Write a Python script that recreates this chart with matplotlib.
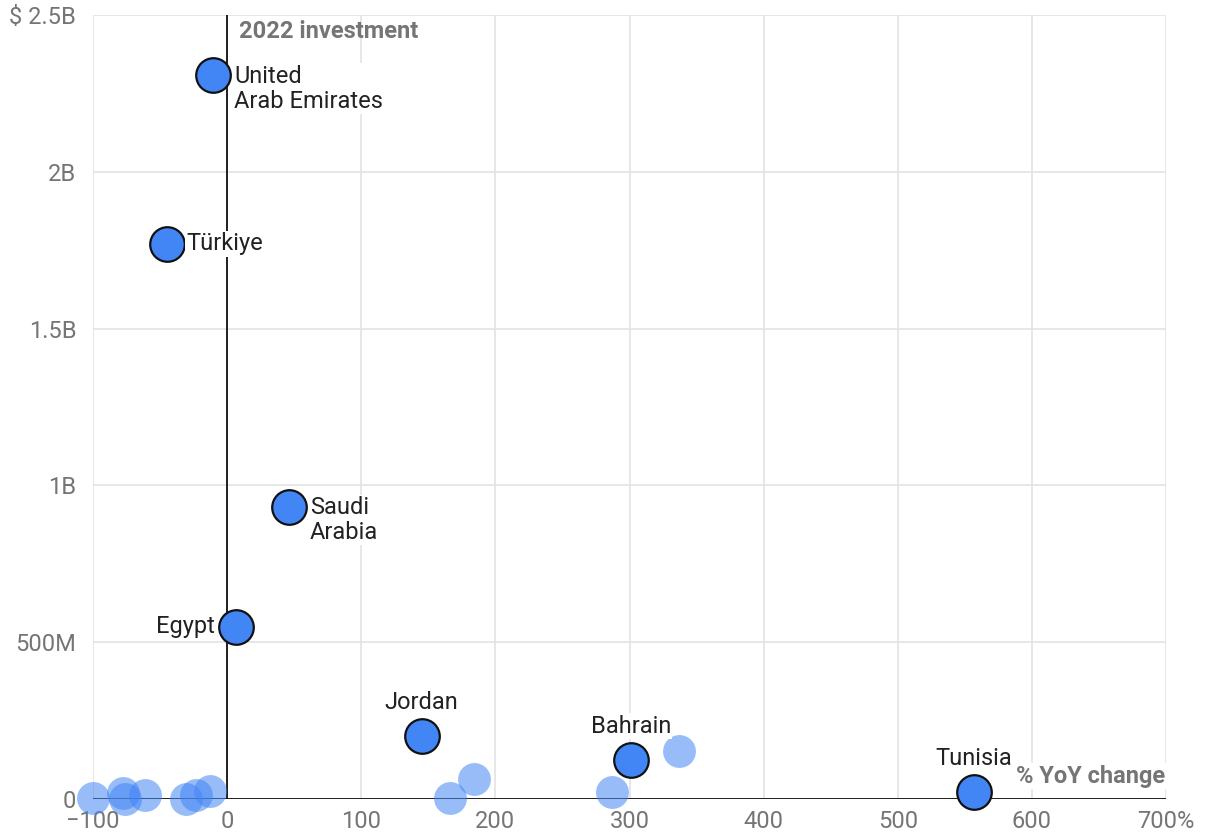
import matplotlib.pyplot as plt

plt.rcParams['font.family'] = ['Roboto', 'DejaVu Sans']

# labelled countries: % YoY change, 2022 investment (billions USD)
countries = ["United\nArab Emirates", "Türkiye", "Saudi\nArabia", "Egypt", "Jordan", "Bahrain", "Tunisia"]
change = [-10.5, -45, 46, 6.5, 145, 301, 557]
invest = [2.31, 1.77, 0.93, 0.55, 0.20, 0.124, 0.022]

# other countries, unlabelled
other_change = [-100, -78, -76, -61, -31, -23, -13, 166, 184, 287, 337]
other_invest = [0.003, 0.02, 0.0, 0.013, 0.0, 0.013, 0.025, 0.003, 0.064, 0.022, 0.153]

x_ticks = [-100, 0, 100, 200, 300, 400, 500, 600, 700]
x_labels = ["\u2212100", "0", "100", "200", "300", "400", "500", "600", "700%"]
y_ticks = [0, 0.5, 1.0, 1.5, 2.0, 2.5]
y_labels = ["0", "500M", "1B", "1.5B", "2B", "$ 2.5B"]

# label placement: (dx, dy) in points, ha, va
label_pos = [(15, 7, "left", "top"), (14, 0, "left", "center"), (15, 8, "left", "top"),
             (-15, 0, "right", "center"), (0, 16, "center", "bottom"), (0, 16, "center", "bottom"),
             (0, 16, "center", "bottom")]

fig = plt.figure(figsize=(12.11, 8.38), dpi=100)
ax = fig.add_axes([93 / 1211, 39 / 838, (1166 - 93) / 1211, (799 - 15) / 838])

ax.scatter(other_change, other_invest, s=560, color="#4285f4", alpha=0.55, linewidths=0, zorder=3,
           clip_on=False)
ax.scatter(change, invest, s=620, color="#4285f4", edgecolors="#111111", linewidths=1.6, zorder=4,
           clip_on=False)

box = dict(facecolor="white", edgecolor="none", pad=1.0)
for name, x, y, (dx, dy, ha, va) in zip(countries, change, invest, label_pos):
    ax.annotate(name, (x, y), xytext=(dx, dy), textcoords="offset points", ha=ha, va=va,
                fontsize=17, color="#222222", linespacing=1.1, zorder=5, bbox=box)

ax.axvline(0, color="#111111", lw=1.3, zorder=2)
ax.axhline(0, color="#111111", lw=1.3, zorder=2)

ax.set_xlim(-100, 700)
ax.set_ylim(0, 2.5)
ax.set_xticks(x_ticks)
ax.set_xticklabels(x_labels)
ax.set_yticks(y_ticks)
ax.set_yticklabels(y_labels)
ax.grid(True, color="#e3e3e3", lw=1.2, zorder=0)
ax.set_axisbelow(True)
for s in ax.spines.values():
    s.set_visible(False)
ax.tick_params(length=0, labelsize=17, labelcolor="#757575")
ax.tick_params(axis="x", pad=8)
ax.tick_params(axis="y", pad=12)

ax.text(9, 2.485, "2022 investment", fontsize=17, fontweight="bold", color="#757575",
        ha="left", va="top", zorder=5)
ax.text(699, 0.073, "% YoY change", fontsize=17, fontweight="bold", color="#757575",
        ha="right", va="center", zorder=5, bbox=box)

fig.savefig("out.png", dpi=100)
